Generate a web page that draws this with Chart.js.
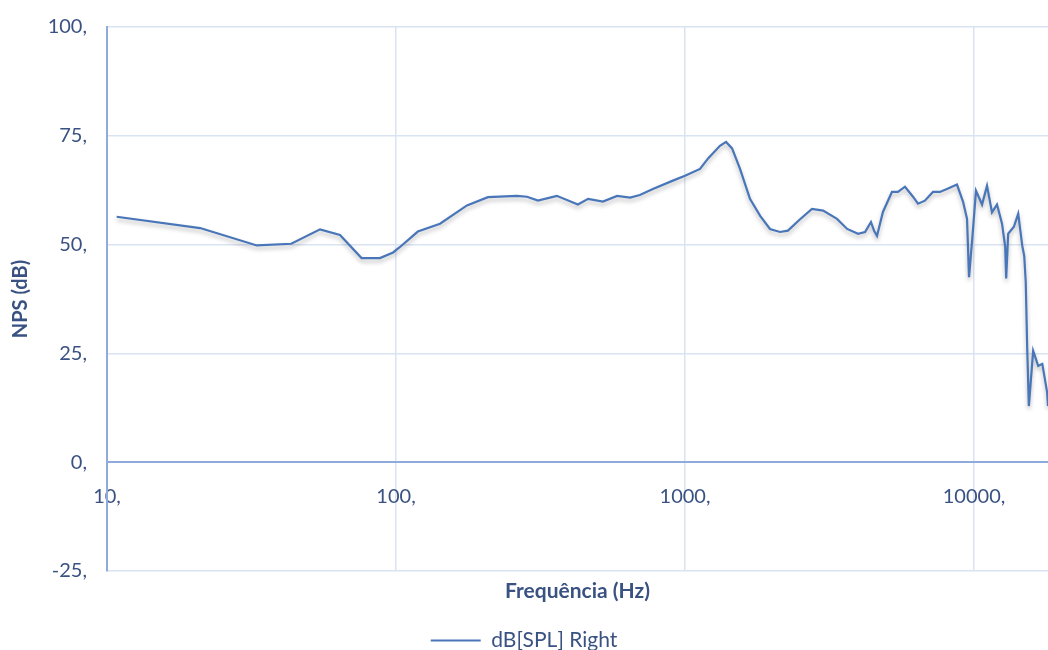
<!DOCTYPE html>
<html>
<head>
<meta charset="utf-8">
<script src="https://cdn.jsdelivr.net/npm/chart.js@4/dist/chart.umd.min.js"></script>
<style>
body{margin:0;background:#fff;}
#wrap{width:1048px;height:650px;position:relative;}
</style>
</head>
<body>
<div id="wrap"><canvas id="splChart"></canvas></div>
<script>
// frequency (Hz) and level (dB SPL)
const freqs=[10.8,21,33,43.4,54.6,64,76,88,97.7,103,119,142,176,208,262,284,310,360,426,462,520,582,646,698,774,908,1000,1127,1202,1321,1387,1455,1550,1678,1820,1968,2132,2270,2490,2750,3005,3357,3640,3970,4197,4400,4510,4617,4840,5200,5455,5770,6150,6400,6760,7210,7620,8060,8730,9160,9460,9610,9840,10160,10660,11090,11540,12010,12500,12820,12920,13130,13740,14220,14690,14920,15100,15280,15480,16020,16680,17230,17900,18030];
const splRight=[56.4,53.8,49.8,50.2,53.5,52.2,46.9,46.9,48.2,49.4,53.0,54.8,59.0,60.9,61.2,61.0,60.1,61.2,59.2,60.5,59.9,61.2,60.8,61.4,62.8,64.7,65.8,67.4,69.8,72.7,73.6,72.1,67.4,60.5,56.6,53.6,52.9,53.2,55.7,58.2,57.8,55.9,53.6,52.5,52.9,55.2,53.2,52.0,57.5,62.1,62.1,63.3,61.0,59.4,60.1,62.1,62.1,62.8,63.8,59.9,55.9,42.5,50.6,62.4,59.2,63.5,57.4,59.2,54.8,49.5,42.2,52.5,54.1,57.1,49.7,47.4,41.4,26.0,12.9,25.6,22.1,22.6,16.1,12.9];
const xTicks=[10,100,1000,10000];
const yTicks=[-25,0,25,50,75,100];

const txt="#3a5282";
const gridCol="#d9e3f2";
const axisCol="#8faadc";
const fam="Lato, 'Open Sans', sans-serif";

const pts=freqs.map((f,i)=>({x:f,y:splRight[i]}));

const shadow={
id:"shadow",
beforeDatasetDraw(chart){
const c=chart.ctx;
c.save();
c.shadowColor="rgba(0,0,0,0.28)";
c.shadowBlur=4;
c.shadowOffsetY=3;
},
afterDatasetDraw(chart){
chart.ctx.restore();
}
};

new Chart(document.getElementById("splChart"),{
type:"line",
data:{
datasets:[{
label:"dB[SPL] Right",
data:pts,
borderColor:"#4876b8",
backgroundColor:"#4876b8",
borderWidth:2.2,
pointRadius:0,
tension:0
}]
},
options:{
responsive:true,
maintainAspectRatio:false,
animation:false,
layout:{padding:{top:0,right:0,bottom:-11,left:0}},
scales:{
x:{
type:"logarithmic",
min:10,max:18030,
position:{y:0},
afterBuildTicks:s=>{s.ticks=xTicks.map(v=>({value:v}));},
grid:{color:gridCol,lineWidth:1.5,drawTicks:false},
border:{color:axisCol,width:2},
ticks:{color:txt,font:{family:fam,size:20},padding:22,maxRotation:0,autoSkip:false,
callback:v=>v+","}
},
x2:{
type:"logarithmic",
min:10,max:18030,
position:"bottom",
afterFit:s=>{s.height=59;},
grid:{display:false},
border:{display:false},
ticks:{display:false},
title:{display:true,text:"Frequência (Hz)",color:txt,font:{family:fam,size:21,weight:"bold"},padding:{top:0,bottom:26}}
},
y:{
min:-25,max:100,
afterBuildTicks:s=>{s.ticks=yTicks.map(v=>({value:v}));},
afterFit:s=>{s.width=107;s.paddingTop=27;},
grid:{color:gridCol,lineWidth:1.5,drawTicks:false},
border:{color:axisCol,width:2},
ticks:{color:txt,font:{family:fam,size:20},padding:20,callback:v=>v+","},
title:{display:true,text:"NPS (dB)",color:txt,font:{family:fam,size:20,weight:"bold"},padding:{top:9,bottom:0}}
}
},
plugins:{
legend:{
position:"bottom",
labels:{color:txt,font:{family:fam,size:21},usePointStyle:true,pointStyle:"line",pointStyleWidth:50,padding:0}
},
tooltip:{enabled:false}
}
},
plugins:[shadow]
});
</script>
</body>
</html>
